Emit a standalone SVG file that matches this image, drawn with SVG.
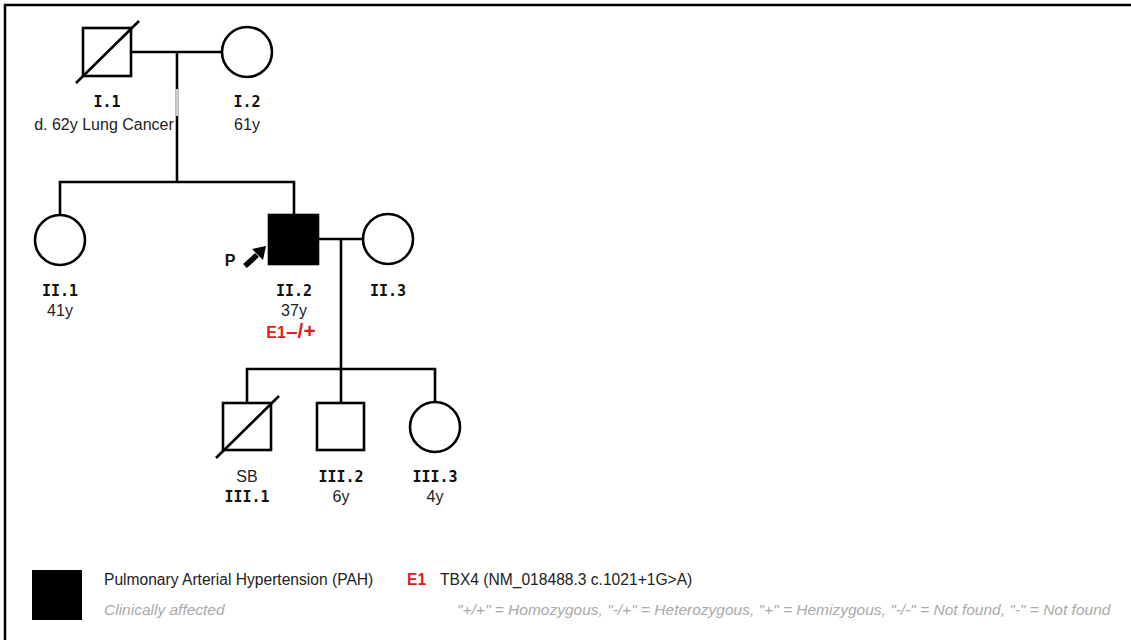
<svg xmlns="http://www.w3.org/2000/svg" width="1131" height="640" viewBox="0 0 1131 640">
  <style>
    .ln { stroke: #000; stroke-width: 2.6; fill: none; }
    .sym { stroke: #000; stroke-width: 2.6; fill: #fff; }
    .aff { fill: #000; stroke: #000; stroke-width: 2.6; }
    .id { font-family: "DejaVu Sans Mono", "Liberation Mono", monospace; font-weight: bold; font-size: 15px; fill: #111; text-anchor: middle; }
    .info { font-family: "Liberation Sans", Arial, sans-serif; font-size: 16px; fill: #222; text-anchor: middle; }
    .gt { font-family: "Liberation Sans", Arial, sans-serif; font-weight: bold; font-size: 16px; fill: #e01b22; text-anchor: middle; }
    .leg { font-family: "Liberation Sans", Arial, sans-serif; font-size: 15.6px; fill: #222; }
    .legsub { font-family: "Liberation Sans", Arial, sans-serif; font-style: italic; font-size: 15.5px; fill: #aaa; }
  </style>

  <!-- frame -->
  <rect x="0" y="0" width="1131" height="640" fill="#fff"/>
  <path d="M5 640 V5 H1131" stroke="#000" stroke-width="2.5" fill="none"/>

  <!-- connectors -->
  <g id="connectors">
    <line class="ln" x1="131" y1="52" x2="222" y2="52"/>
    <line class="ln" x1="177" y1="52" x2="177" y2="182"/>
    <line x1="177" y1="89" x2="177" y2="116" stroke="#ccc" stroke-width="2.6"/>
    <path class="ln" d="M60 215 V182 H294 V215"/>
    <line class="ln" x1="318" y1="239" x2="363" y2="239"/>
    <line class="ln" x1="341" y1="239" x2="341" y2="369"/>
    <path class="ln" d="M247 403 V369 H435 V402"/>
    <line class="ln" x1="341" y1="369" x2="341" y2="403"/>
  </g>

  <!-- generation I -->
  <g id="I-1">
    <rect class="sym" x="83" y="28" width="48" height="48"/>
    <line class="ln" x1="76" y1="83" x2="139" y2="21"/>
    <text class="id" x="107" y="107">I.1</text>
    <text class="info" x="104" y="130">d. 62y Lung Cancer</text>
  </g>
  <g id="I-2">
    <circle class="sym" cx="247" cy="52" r="25"/>
    <text class="id" x="247" y="107">I.2</text>
    <text class="info" x="247" y="130">61y</text>
  </g>

  <!-- generation II -->
  <g id="II-1">
    <circle class="sym" cx="60" cy="240" r="25"/>
    <text class="id" x="60" y="296">II.1</text>
    <text class="info" x="60" y="316">41y</text>
  </g>
  <g id="II-2">
    <rect class="aff" x="269" y="215" width="49" height="49"/>
    <text x="230" y="266" font-family="Liberation Sans, Arial, sans-serif" font-weight="bold" font-size="16" fill="#111" text-anchor="middle">P</text>
    <line x1="245" y1="266" x2="257" y2="255" stroke="#000" stroke-width="5.5"/>
    <polygon points="266,246 252,249 263,260" fill="#000"/>
    <text class="id" x="294" y="296">II.2</text>
    <text class="info" x="294" y="316">37y</text>
    <text class="gt" x="291" y="338">E1<tspan font-size="21">–/+</tspan></text>
  </g>
  <g id="II-3">
    <circle class="sym" cx="388" cy="239" r="25"/>
    <text class="id" x="388" y="296">II.3</text>
  </g>

  <!-- generation III -->
  <g id="III-1">
    <rect class="sym" x="223" y="403" width="48" height="47"/>
    <line class="ln" x1="216" y1="458" x2="279" y2="396"/>
    <text class="info" x="247" y="482">SB</text>
    <text class="id" x="247" y="502">III.1</text>
  </g>
  <g id="III-2">
    <rect class="sym" x="317" y="403" width="47" height="47"/>
    <text class="id" x="341" y="482">III.2</text>
    <text class="info" x="341" y="502">6y</text>
  </g>
  <g id="III-3">
    <circle class="sym" cx="435" cy="427" r="25"/>
    <text class="id" x="435" y="482">III.3</text>
    <text class="info" x="435" y="502">4y</text>
  </g>

  <!-- legend -->
  <g id="legend">
    <rect x="32" y="570" width="50" height="50" fill="#000"/>
    <text class="leg" x="104" y="585">Pulmonary Arterial Hypertension (PAH)</text>
    <text class="legsub" x="104" y="615">Clinically affected</text>
    <text x="407" y="585" font-family="Liberation Sans, Arial, sans-serif" font-weight="bold" font-size="15.6" fill="#e01b22">E1</text>
    <text class="leg" x="440" y="585">TBX4 (NM_018488.3 c.1021+1G&gt;A)</text>
    <text class="legsub" x="457" y="615">"+/+" = Homozygous, "-/+" = Heterozygous, "+" = Hemizygous, "-/-" = Not found, "-" = Not found</text>
  </g>
</svg>
